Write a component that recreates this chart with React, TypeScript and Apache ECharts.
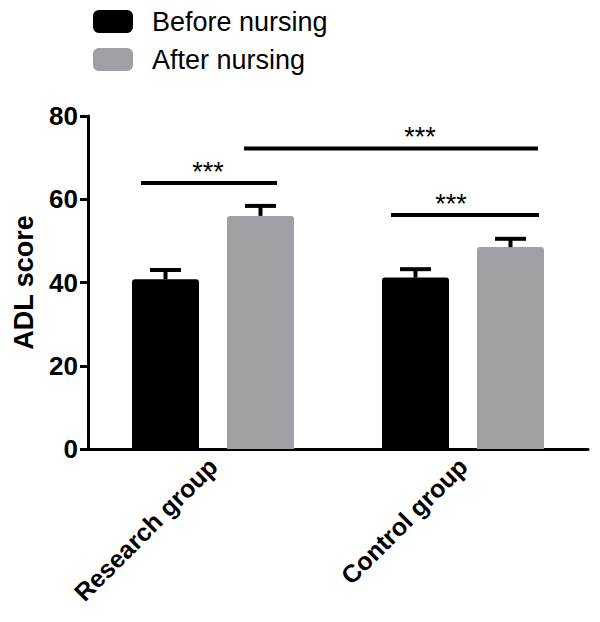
import React, { useEffect, useRef } from "react";
import * as echarts from "echarts";

const categories = ["Research group", "Control group"];
const seriesNames = ["Before nursing", "After nursing"];
const beforeValues = [40.8, 41.2];
const afterValues = [56.0, 48.5];
const beforeErrors = [2.2, 2.0];
const afterErrors = [2.4, 2.0];
const yTicks = [0, 20, 40, 60, 80];
// significance brackets: positions in category units
const sigStart = [-0.288, 0.124, 0.712];
const sigEnd = [0.256, 1.3, 1.304];
const sigY = [63.9, 72.2, 56.2];
const sigStarX = [-0.02, 0.828, 0.952];
const sigLabel = ["***", "***", "***"];

const BLACK = "#000000";
const GRAY = "#a0a0a4";
const FONT = "Arial, 'Liberation Sans', Helvetica, sans-serif";
const BAR_W = 0.268;
const BAR_GAP = 0.112;
const HALF_OFFSET = (BAR_W + BAR_GAP) / 2;

export default function App() {
  const ref = useRef<HTMLDivElement>(null);
  useEffect(() => {
    if (!ref.current) return;
    const chart = echarts.init(ref.current, undefined, { renderer: "svg" });

    const errRender = (sign: number, color: string) => (params: any, api: any) => {
      const cat = api.value(0);
      const v = api.value(1);
      const e = api.value(2);
      const band = api.size([1, 0])[0];
      const base = api.coord([cat, v]);
      const top = api.coord([cat, v + e]);
      const x = base[0] + sign * HALF_OFFSET * band;
      const capHalf = 15.5;
      return {
        type: "group",
        children: [
          { type: "line", shape: { x1: x, y1: base[1], x2: x, y2: top[1] }, style: { stroke: color, lineWidth: 4 } },
          { type: "line", shape: { x1: x - capHalf, y1: top[1], x2: x + capHalf, y2: top[1] }, style: { stroke: color, lineWidth: 4 } },
        ],
      };
    };

    const sigData = sigStart.map((s, i) => [s, sigEnd[i], sigY[i], sigStarX[i], i]);

    chart.setOption({
      animation: false,
      textStyle: { fontFamily: FONT },
      legend: {
        data: seriesNames,
        orient: "vertical",
        left: 93,
        top: 8,
        padding: 0,
        itemWidth: 40,
        itemHeight: 23,
        itemGap: 11,
        icon: "roundRect",
        textStyle: { fontSize: 27, lineHeight: 23, color: "#000", fontFamily: FONT, padding: [0, 0, 0, 14] },
      },
      grid: { left: 88, right: 12, top: 116, bottom: 173, containLabel: false },
      xAxis: {
        type: "category",
        data: categories,
        axisLine: { lineStyle: { color: "#000", width: 3 } },
        axisTick: { alignWithLabel: true, length: 8, lineStyle: { color: "#000", width: 3 } },
        axisLabel: { rotate: 45, fontSize: 25, fontWeight: "bold", color: "#000", fontFamily: FONT, margin: 13 },
      },
      yAxis: {
        type: "value",
        min: yTicks[0],
        max: yTicks[yTicks.length - 1],
        interval: 20,
        name: "ADL score",
        nameLocation: "middle",
        nameGap: 51,
        nameTextStyle: { fontSize: 27, fontWeight: "bold", color: "#000", fontFamily: FONT },
        axisLine: { show: true, lineStyle: { color: "#000", width: 3 } },
        axisTick: { show: true, length: 8, lineStyle: { color: "#000", width: 3 } },
        axisLabel: { fontSize: 26, fontWeight: "bold", color: "#000", fontFamily: FONT, margin: 10 },
        splitLine: { show: false },
      },
      series: [
        {
          name: seriesNames[0],
          type: "bar",
          data: beforeValues,
          barWidth: (BAR_W * 100).toFixed(1) + "%",
          barGap: ((BAR_GAP / BAR_W) * 100).toFixed(1) + "%",
          itemStyle: { color: BLACK, borderRadius: [3, 3, 0, 0] },
          z: 2,
        },
        {
          name: seriesNames[1],
          type: "bar",
          data: afterValues,
          barWidth: (BAR_W * 100).toFixed(1) + "%",
          barGap: ((BAR_GAP / BAR_W) * 100).toFixed(1) + "%",
          itemStyle: { color: GRAY, borderRadius: [3, 3, 0, 0] },
          z: 2,
        },
        {
          type: "custom",
          name: "errBefore",
          renderItem: errRender(-1, BLACK),
          data: beforeValues.map((v, i) => [i, v, beforeErrors[i]]),
          z: 3,
          silent: true,
        },
        {
          type: "custom",
          name: "errAfter",
          renderItem: errRender(1, BLACK),
          data: afterValues.map((v, i) => [i, v, afterErrors[i]]),
          z: 3,
          silent: true,
        },
        {
          type: "custom",
          name: "sig",
          silent: true,
          z: 4,
          data: sigData,
          encode: { x: 0, y: 2 },
          renderItem: (params: any, api: any) => {
            const s = api.value(0);
            const e = api.value(1);
            const y = api.value(2);
            const sx = api.value(3);
            const idx = api.value(4);
            const band = api.size([1, 0])[0];
            const origin = api.coord([0, y]);
            const px = (c: number) => origin[0] + c * band;
            return {
              type: "group",
              children: [
                { type: "line", shape: { x1: px(s), y1: origin[1], x2: px(e), y2: origin[1] }, style: { stroke: "#000", lineWidth: 4 } },
                {
                  type: "text",
                  x: px(sx),
                  y: origin[1] + 2,
                  style: { text: sigLabel[idx], fill: "#000", fontSize: 27, fontFamily: FONT, align: "center", verticalAlign: "bottom" },
                },
              ],
            };
          },
        },
      ],
    });
    return () => chart.dispose();
  }, []);
  return <div ref={ref} style={{ position: "absolute", left: 0, top: 0, width: 600, height: 622 }} />;
}
